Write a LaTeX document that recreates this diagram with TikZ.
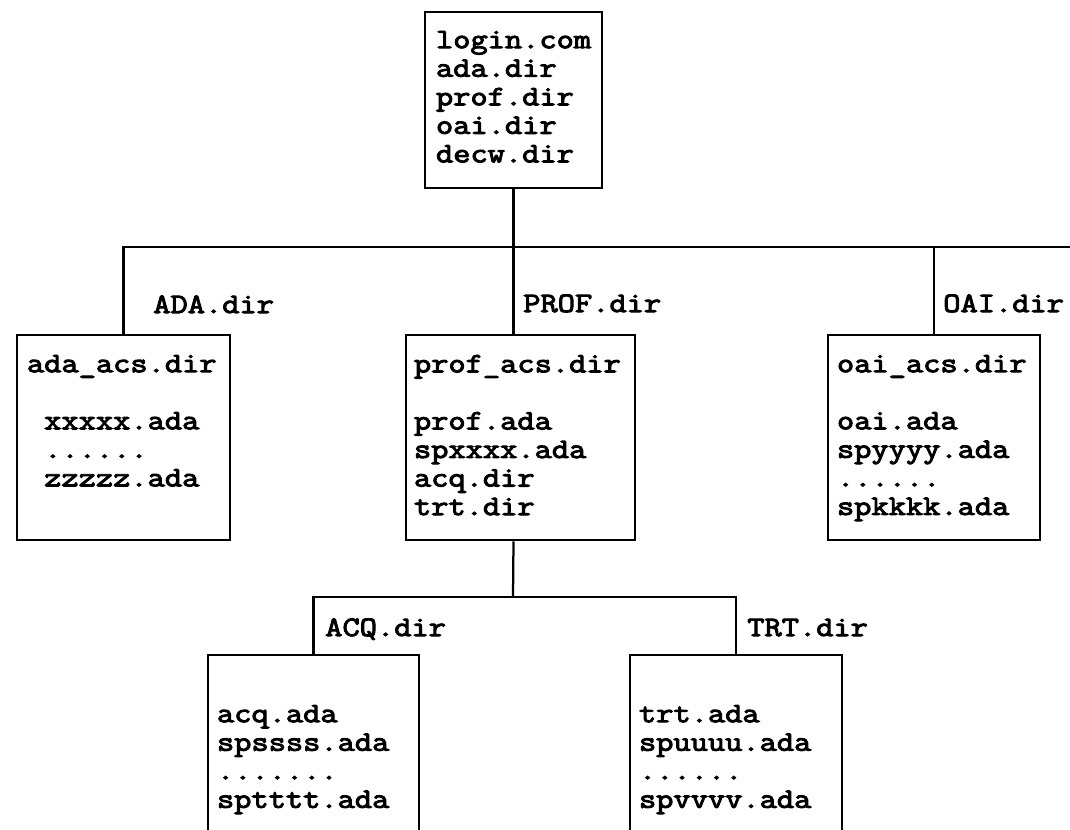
\documentclass[tikz,border=0pt]{standalone}
\usepackage{fontspec}
\setmonofont{Latin Modern Mono}[FakeStretch=1.19,AutoFakeBold=3.5]
\usetikzlibrary{positioning,calc}
\tikzset{
  dirbox/.style ={draw,line width=1.8pt,inner sep=0pt},
  listing/.style={anchor=north west,align=left,inner sep=0pt,font=\ttfamily\bfseries\fontsize{20}{20.3}\selectfont},
  dirtag/.style ={anchor=base west,inner sep=0pt,font=\ttfamily\bfseries\fontsize{20}{20.3}\selectfont},
  tree/.style   ={line width=1.6pt},
}
\newcommand{\ind}{\hphantom{x}}

\begin{document}
\begin{tikzpicture}[x=0.025cm,y=-0.025cm]
  \clip (0,0) rectangle (1070,829);
  % ---- root directory ----
  \node[dirbox,minimum width=4.425cm,minimum height=4.4cm] (root) at (513.5,100) {};
  \node[listing] (root-ls) at ($(root.north west)+(12,20)$)
        {login.com\\ada.dir\\prof.dir\\oai.dir\\decw.dir};

  % ---- first level ----
  \coordinate (bar-r) at (1070,247);
  \node[dirbox,minimum width=5.325cm,minimum height=5.125cm] (ada) at (123.5,437.5) {};
  \node[dirbox,minimum width=5.725cm,minimum height=5.125cm] (prof) at (520.5,437.5) {};
  \node[dirbox,minimum width=5.3cm,minimum height=5.125cm] (oai) at (934,437.5) {};
  \draw[tree] (root.south) -- (root.south |- prof.north);
  \draw[tree] (ada.north) -- (ada.north |- bar-r) -- (bar-r);
  \draw[tree] (oai.north) -- (oai.north |- bar-r);
  \node[dirtag] (ada-tag) at (153,313) {ADA.dir};
  \node[dirtag] (prof-tag) at (523,312) {PROF.dir};
  \node[dirtag] (oai-tag) at (943,312) {OAI.dir};
  \node[listing] (ada-ls) at ($(ada.north west)+(11,21)$)
        {ada\_acs.dir\\[20.3pt]\ind xxxxx.ada\\\ind ......\\\ind zzzzz.ada};
  \node[listing] (prof-ls) at ($(prof.north west)+(9,21)$)
        {prof\_acs.dir\\[20.3pt]prof.ada\\spxxxx.ada\\acq.dir\\trt.dir};
  \node[listing] (oai-ls) at ($(oai.north west)+(10,21)$)
        {oai\_acs.dir\\[20.3pt]oai.ada\\spyyyy.ada\\......\\spkkkk.ada};

  % ---- second level (cut off at the bottom) ----
  \coordinate (fork) at (513,597);
  \node[dirbox,minimum width=5.275cm,minimum height=5.125cm] (acq) at (313.5,757.5) {};
  \node[dirbox,minimum width=5.3cm,minimum height=5.125cm] (trt) at (736,757.5) {};
  \draw[tree] (root.south |- prof.south) -- (fork);
  \draw[tree] (acq.north) -- (acq.north |- fork) -- (trt.north |- fork) -- (trt.north);
  \node[dirtag] (acq-tag) at (325,636) {ACQ.dir};
  \node[dirtag] (trt-tag) at (747,636) {TRT.dir};
  \node[listing] (acq-ls) at ($(acq.north west)+(10,51)$)
        {acq.ada\\spssss.ada\\.......\\sptttt.ada};
  \node[listing] (trt-ls) at ($(trt.north west)+(10,51)$)
        {trt.ada\\spuuuu.ada\\......\\spvvvv.ada};
\end{tikzpicture}
\end{document}
